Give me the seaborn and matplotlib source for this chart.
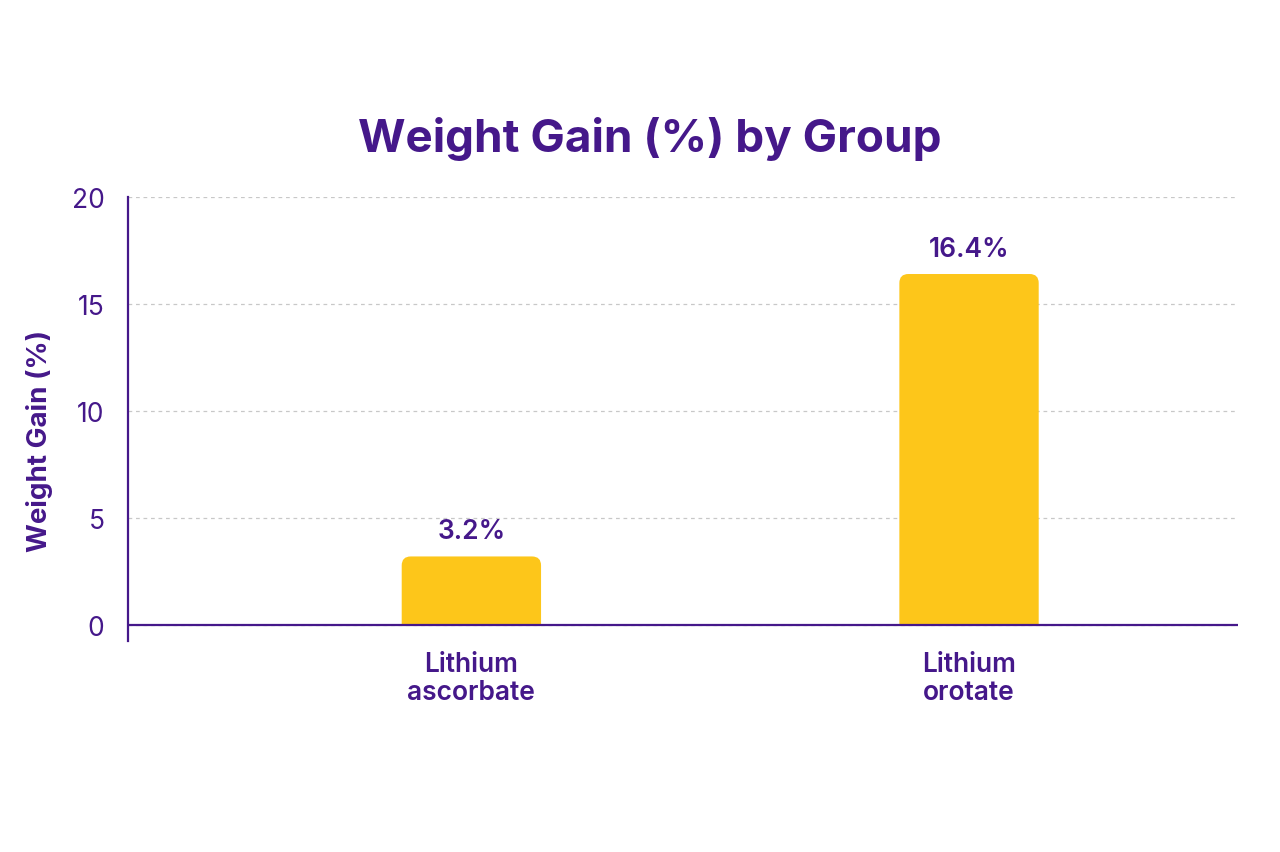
import matplotlib
matplotlib.use("Agg")
import matplotlib.pyplot as plt
import seaborn as sns
import pandas as pd
from matplotlib.patches import FancyBboxPatch, Rectangle

groups = ["Lithium\nascorbate", "Lithium\norotate"]
weight_gain = [3.2, 16.4]
labels = ["3.2%", "16.4%"]
yticks = [0, 5, 10, 15, 20]

purple = "#45188a"
yellow = "#fdc61a"

sns.set_theme(style="white")
plt.rcParams["font.family"] = ["Inter", "DejaVu Sans"]

df = pd.DataFrame({"group": groups, "gain": weight_gain})

fig = plt.figure(figsize=(12.8, 8.53), dpi=100)
ax = fig.add_axes([0.1, 0.2474, 0.867, 0.5205])

sns.barplot(data=df, x="group", y="gain", color=yellow, width=0.28,
            saturation=1, ax=ax)

ax.set_xlim(-0.69, 1.54)
ax.set_ylim(-0.75, 20)

# swap the plain bars for ones with rounded top corners
px_x = 1110 / (1.54 + 0.69)
px_y = 444 / 20.75
r = 9 / px_x
aspect = (9 / px_y) / r
for p in list(ax.patches):
    x0, w, h = p.get_x(), p.get_width(), p.get_height()
    p.remove()
    box = FancyBboxPatch((x0, -2), w, h + 2,
                         boxstyle=f"round,pad=0,rounding_size={r}",
                         mutation_aspect=aspect, facecolor=yellow,
                         edgecolor="none", zorder=2)
    ax.add_patch(box)
    clip = Rectangle((x0 - 1, 0), w + 2, 100, transform=ax.transData)
    box.set_clip_path(clip)

for i, (v, t) in enumerate(zip(weight_gain, labels)):
    ax.annotate(t, (i, v), xytext=(0, 9), textcoords="offset points",
                ha="center", va="bottom", fontsize=19, fontweight="semibold",
                color=purple)

ax.axhline(0, color=purple, lw=1.6, zorder=3)
ax.set_yticks(yticks)
ax.yaxis.grid(True, linestyle=(0, (3, 3)), color="#c8c8c8", lw=0.9)
ax.set_axisbelow(True)

for s in ["top", "right", "bottom"]:
    ax.spines[s].set_visible(False)
ax.spines["left"].set_color(purple)
ax.spines["left"].set_linewidth(1.6)

ax.tick_params(axis="y", length=0, pad=17, labelsize=19, labelcolor=purple)
ax.tick_params(axis="x", length=0, pad=7, labelsize=19, labelcolor=purple)
for lab in ax.get_xticklabels():
    lab.set_fontweight("semibold")
    lab.set_linespacing(1.1)

ax.set_xlabel("")
ax.set_ylabel("Weight Gain (%)", fontsize=20, fontweight="bold",
              color=purple)
ax.yaxis.set_label_coords(-0.068, 0.453)

fig.suptitle("Weight Gain (%) by Group", x=0.508, y=0.837, va="center",
             fontsize=33, fontweight="bold", color=purple)

fig.savefig("out.png", dpi=100, facecolor="white")
